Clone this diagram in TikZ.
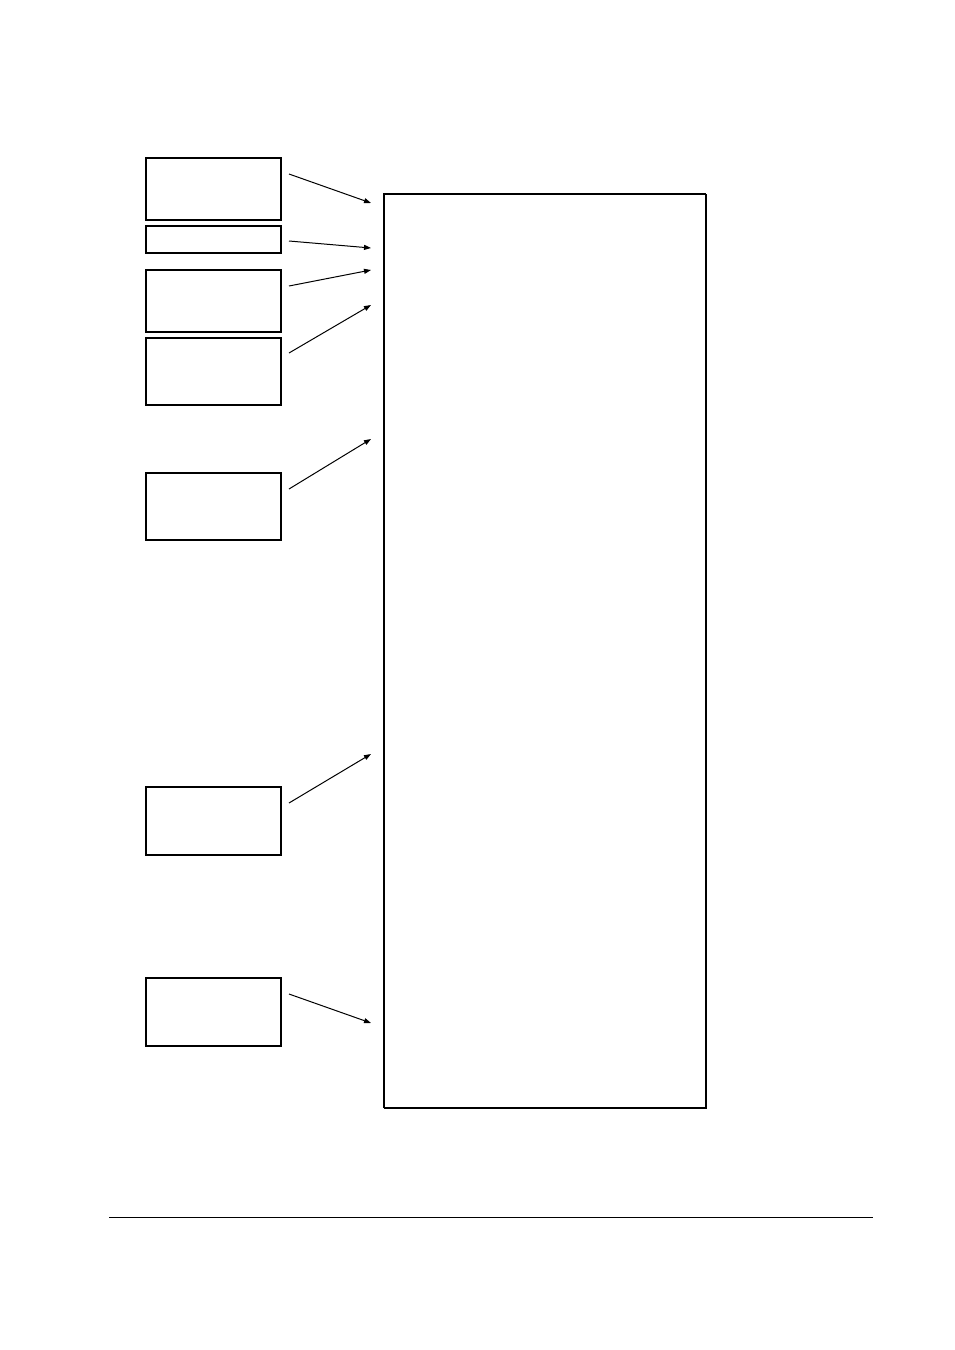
\documentclass[tikz,border=0pt]{standalone}
\usetikzlibrary{arrows.meta,calc}
\begin{document}
\begin{tikzpicture}[x=1pt,y=-1pt,
  boxshape/.style={draw,line width=1.2pt},
  shadowedge/.style={line width=2.2pt},
  conn/.style={line width=1pt,-{Triangle[length=7pt,width=5pt]}}]
\useasboundingbox (0,0) rectangle (954,1350);
% small boxes
\foreach \n/\ya/\yb in {b1/158/220, b2/226/253, b3/270/332, b4/338/405, b5/473/540, b6/787/855, b7/978/1046}{
  \draw[boxshape] (146,\ya) rectangle (281,\yb);
  \draw[line width=1.8pt] (281,\ya) -- (281,\yb) -- (146,\yb);
  \coordinate (\n) at (281,\ya);
}
% big box
\draw[line width=1.1pt] (384,1108) -- (384,194) -- (706,194);
\draw[line width=2.6pt] (706,194) -- (706,1108) -- (384,1108);
\coordinate (big) at (384,194);
% arrow endpoints
\coordinate (s1) at (289,174); \coordinate (e1) at (371,203);
\coordinate (s2) at (289,241); \coordinate (e2) at (371,248);
\coordinate (s3) at (289,286); \coordinate (e3) at (371,270);
\coordinate (s4) at (289,353); \coordinate (e4) at (371,305);
\coordinate (s5) at (289,489); \coordinate (e5) at (371,439);
\coordinate (s6) at (289,803); \coordinate (e6) at (371,754);
\coordinate (s7) at (289,994); \coordinate (e7) at (371,1023);
\foreach \i in {1,...,7}{\draw[conn] (s\i) -- (e\i);}
% footer rule
\coordinate (fl) at (109,1217); \coordinate (fr) at (873,1217);
\draw[line width=1pt] (fl) -- (fr);
\end{tikzpicture}
\end{document}
